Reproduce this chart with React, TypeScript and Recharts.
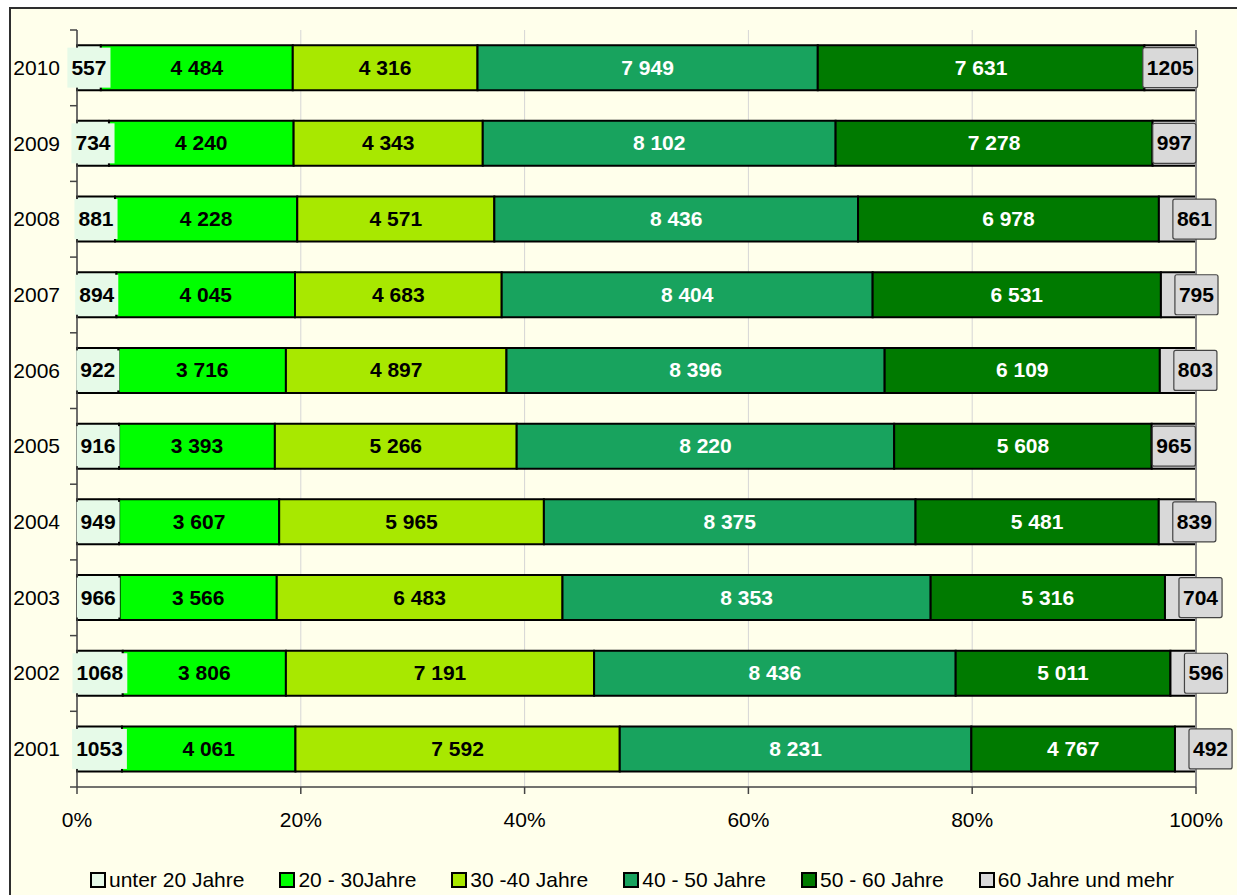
import React from "react";
import {
  BarChart,
  Bar,
  XAxis,
  YAxis,
  CartesianGrid,
  Legend,
  LabelList,
  ReferenceLine,
} from "recharts";

const years = ["2010", "2009", "2008", "2007", "2006", "2005", "2004", "2003", "2002", "2001"];
const unter20 = [557, 734, 881, 894, 922, 916, 949, 966, 1068, 1053];
const j20bis30 = [4484, 4240, 4228, 4045, 3716, 3393, 3607, 3566, 3806, 4061];
const j30bis40 = [4316, 4343, 4571, 4683, 4897, 5266, 5965, 6483, 7191, 7592];
const j40bis50 = [7949, 8102, 8436, 8404, 8396, 8220, 8375, 8353, 8436, 8231];
const j50bis60 = [7631, 7278, 6978, 6531, 6109, 5608, 5481, 5316, 5011, 4767];
const j60plus = [1205, 997, 861, 795, 803, 965, 839, 704, 596, 492];
const xTicks = [0, 0.2, 0.4, 0.6, 0.8, 1];

const series = [
  { key: "u20", name: "unter 20 Jahre", color: "#E6FAE8", values: unter20, text: "#000" },
  { key: "a20", name: "20 - 30Jahre", color: "#00FF00", values: j20bis30, text: "#000" },
  { key: "a30", name: "30 -40 Jahre", color: "#A8E800", values: j30bis40, text: "#000" },
  { key: "a40", name: "40 - 50 Jahre", color: "#18A35E", values: j40bis50, text: "#fff" },
  { key: "a50", name: "50 - 60 Jahre", color: "#007A00", values: j50bis60, text: "#fff" },
  { key: "a60", name: "60 Jahre und mehr", color: "#D9D9D9", values: j60plus, text: "#000" },
];

const data = years.map((year, i) => {
  const row: Record<string, any> = { year };
  series.forEach((s) => (row[s.key] = s.values[i]));
  return row;
});

const FONT = "'Liberation Sans', Arial, sans-serif";
const FS = 21;
const W = 1237;
const H = 895;
const TOP = 30;
const XAXIS_H = 78;
const LEGEND_H = 30;
const BAND = (H - TOP - XAXIS_H - LEGEND_H) / years.length;

const spaced = (v: number) => String(v).replace(/\B(?=(\d{3})+(?!\d))/g, " ");

function YTick(props: any) {
  const { x, y, payload, index } = props;
  const ax = x + 17;
  return (
    <g>
      <text x={x} y={y} dy={7} textAnchor="end" fontSize={FS} fill="#000" fontFamily={FONT}>
        {payload.value}
      </text>
      <line x1={ax - 7} x2={ax} y1={y - BAND / 2} y2={y - BAND / 2} stroke="#444" strokeWidth={1.5} />
      {index === years.length - 1 && (
        <line x1={ax - 7} x2={ax} y1={y + BAND / 2} y2={y + BAND / 2} stroke="#444" strokeWidth={1.5} />
      )}
    </g>
  );
}

function centerLabel(color: string) {
  return (props: any) => {
    const { x, y, width, height, value } = props;
    return (
      <text
        x={x + width / 2}
        y={y + height / 2}
        dy={7}
        textAnchor="middle"
        fontSize={FS}
        fontWeight="bold"
        fill={color}
        fontFamily={FONT}
      >
        {spaced(value)}
      </text>
    );
  };
}

function FirstLabel(props: any) {
  const { x, y, width, height, value } = props;
  const s = String(value);
  const bw = s.length * 11.7 + 8;
  const cx = x + width / 2;
  const cy = y + height / 2;
  return (
    <g>
      <rect x={cx - bw / 2} y={cy - 20} width={bw} height={40} fill="#E6FAE8" />
      <text x={cx} y={cy} dy={7} textAnchor="middle" fontSize={FS} fontWeight="bold" fill="#000" fontFamily={FONT}>
        {s}
      </text>
    </g>
  );
}

function LastLabel(props: any) {
  const { x, y, width, height, value } = props;
  const s = String(value);
  const bw = s.length * 11.7 + 8;
  const cx = width >= bw - 4 ? x + width / 2 : x + 14 + bw / 2;
  const cy = y + height / 2;
  return (
    <g>
      <rect
        x={cx - bw / 2}
        y={cy - 20}
        width={bw}
        height={40}
        rx={2}
        fill="#D9D9D9"
        stroke="#444"
        strokeWidth={1.2}
      />
      <text x={cx} y={cy} dy={7} textAnchor="middle" fontSize={FS} fontWeight="bold" fill="#000" fontFamily={FONT}>
        {s}
      </text>
    </g>
  );
}

function LegendContent() {
  return (
    <div
      style={{
        height: LEGEND_H,
        display: "flex",
        alignItems: "center",
        paddingLeft: 90,
        fontFamily: FONT,
        fontSize: 21,
        color: "#000",
        whiteSpace: "nowrap",
      }}
    >
      {series.map((s) => (
        <div key={s.key} style={{ display: "flex", alignItems: "center", marginRight: 35 }}>
          <span
            style={{
              display: "inline-block",
              width: 12,
              height: 12,
              border: "2px solid #000",
              background: s.color,
              marginRight: 3,
            }}
          />
          <span>{s.name}</span>
        </div>
      ))}
    </div>
  );
}

export default function App() {
  return (
    <>
      <style>{`body{overflow:hidden;}`}</style>
      <div
        style={{
          position: "absolute",
          left: 9,
          top: 7,
          width: 1300,
          height: 1000,
          border: "2px solid #2e2e2e",
          background: "#FFFFEB",
        }}
      />
      <div style={{ position: "absolute", left: 0, top: 0, width: W, height: H }}>
        <BarChart
          width={W}
          height={H}
          data={data}
          layout="vertical"
          stackOffset="expand"
          barCategoryGap="20%"
          margin={{ top: TOP, right: 41, bottom: 0, left: 0 }}
        >
          <CartesianGrid horizontal={false} stroke="#D6D6D6" />
          <XAxis
            type="number"
            domain={[0, 1]}
            ticks={xTicks}
            tickFormatter={(v: number) => `${Math.round(v * 100)}%`}
            tick={{ fontSize: FS, fill: "#000", fontFamily: FONT }}
            axisLine={{ stroke: "#444", strokeWidth: 1.5 }}
            tickLine={{ stroke: "#444", strokeWidth: 1.5 }}
            tickSize={7}
            tickMargin={18}
            height={XAXIS_H}
            interval={0}
          />
          <XAxis
            xAxisId="top"
            orientation="top"
            type="number"
            domain={[0, 1]}
            tick={false}
            tickLine={false}
            height={0}
            axisLine={{ stroke: "#8a8a8a", strokeWidth: 2 }}
          />
          <YAxis
            type="category"
            dataKey="year"
            width={77}
            interval={0}
            tickSize={0}
            tickMargin={17}
            tickLine={false}
            axisLine={{ stroke: "#444", strokeWidth: 1.5 }}
            tick={<YTick />}
          />
          <ReferenceLine x={1} stroke="#8a8a8a" strokeWidth={2} />
          {series.map((s, i) => (
            <Bar
              key={s.key}
              dataKey={s.key}
              name={s.name}
              stackId="a"
              fill={s.color}
              stroke="#000"
              strokeWidth={2}
              isAnimationActive={false}
            >
              <LabelList
                dataKey={s.key}
                content={i === 0 ? FirstLabel : i === series.length - 1 ? LastLabel : centerLabel(s.text)}
              />
            </Bar>
          ))}
          <Legend verticalAlign="bottom" height={LEGEND_H} content={() => <LegendContent />} />
        </BarChart>
      </div>
    </>
  );
}
